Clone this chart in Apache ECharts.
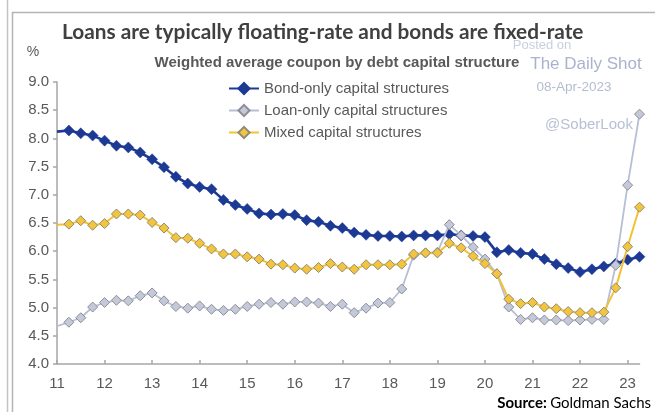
<!DOCTYPE html>
<html>
<head>
<meta charset="utf-8">
<script src="https://cdn.jsdelivr.net/npm/echarts@6/dist/echarts.min.js"></script>
<style>
  html, body { margin: 0; padding: 0; background: #ffffff; }
  #chart { width: 655px; height: 412px; }
</style>
</head>
<body>
<div id="chart"></div>
<script>
// Quarterly observation dates as fractional years (11 = 2011); the first entry only anchors the line at the axis
const quarters = [11.00, 11.25, 11.50, 11.75, 12.00, 12.25, 12.50, 12.75, 13.00, 13.25, 13.50,
  13.75, 14.00, 14.25, 14.50, 14.75, 15.00, 15.25, 15.50, 15.75, 16.00, 16.25, 16.50, 16.75,
  17.00, 17.25, 17.50, 17.75, 18.00, 18.25, 18.50, 18.75, 19.00, 19.25, 19.50, 19.75, 20.00,
  20.25, 20.50, 20.75, 21.00, 21.25, 21.50, 21.75, 22.00, 22.25, 22.50, 22.75, 23.00, 23.25];

// Weighted average coupon, %
const bondOnly = [8.12, 8.14, 8.09, 8.05, 7.96, 7.87, 7.84, 7.75, 7.63, 7.49, 7.32, 7.20, 7.14,
  7.10, 6.91, 6.82, 6.75, 6.67, 6.65, 6.66, 6.64, 6.55, 6.52, 6.45, 6.41, 6.33, 6.29, 6.27,
  6.27, 6.26, 6.28, 6.28, 6.28, 6.30, 6.28, 6.27, 6.25, 5.98, 6.02, 5.97, 5.95, 5.86, 5.77,
  5.70, 5.63, 5.68, 5.73, 5.78, 5.85, 5.90];
const loanOnly = [4.67, 4.74, 4.82, 5.01, 5.09, 5.13, 5.12, 5.21, 5.26, 5.12, 5.02, 4.99, 5.03,
  4.97, 4.95, 4.97, 5.02, 5.06, 5.09, 5.06, 5.10, 5.10, 5.08, 5.02, 5.06, 4.91, 4.99, 5.08,
  5.09, 5.33, 5.93, 5.97, 5.98, 6.47, 6.28, 6.07, 5.86, 5.60, 5.01, 4.79, 4.82, 4.78, 4.78,
  4.77, 4.78, 4.79, 4.79, 5.75, 7.17, 8.43];
const mixed = [6.47, 6.48, 6.54, 6.46, 6.49, 6.66, 6.66, 6.64, 6.51, 6.41, 6.24, 6.23, 6.14,
  6.04, 5.95, 5.95, 5.90, 5.86, 5.77, 5.76, 5.70, 5.68, 5.71, 5.78, 5.72, 5.68, 5.76, 5.76,
  5.76, 5.77, 5.95, 5.97, 5.97, 6.14, 6.06, 5.91, 5.78, 5.60, 5.15, 5.07, 5.09, 5.01, 4.98,
  4.93, 4.91, 4.91, 4.92, 5.35, 6.08, 6.78];

const seriesNames = ['Bond-only capital structures', 'Loan-only capital structures', 'Mixed capital structures'];
const yearTicks = [11, 12, 13, 14, 15, 16, 17, 18, 19, 20, 21, 22, 23];

const AXIS = '#a6a6a6';
const LABEL = '#595959';
const SANS = '"Liberation Sans", Arial, sans-serif';

function points(values) {
  return values.map((v, i) => i === 0
    ? { value: [quarters[i], v], symbol: 'none' }
    : [quarters[i], v]);
}

const chart = echarts.init(document.getElementById('chart'), null, { renderer: 'canvas' });

chart.setOption({
  animation: false,
  backgroundColor: '#ffffff',
  grid: { left: 57, right: 15.5, top: 82, bottom: 48, containLabel: false },
  legend: {
    orient: 'vertical',
    left: 223,
    top: 76,
    itemWidth: 30,
    itemHeight: 14,
    itemGap: 7,
    textStyle: { fontFamily: SANS, fontSize: 15, color: LABEL },
    data: seriesNames
  },
  xAxis: {
    type: 'value',
    min: 11,
    max: 23.25,
    interval: 1,
    axisLine: { show: true, lineStyle: { color: AXIS, width: 1.5 } },
    axisTick: { show: true, inside: true, length: 4, customValues: yearTicks, lineStyle: { color: AXIS, width: 1.5 } },
    axisLabel: { customValues: yearTicks, margin: 12, fontFamily: SANS, fontSize: 15, color: LABEL },
    splitLine: { show: false }
  },
  yAxis: {
    type: 'value',
    min: 4,
    max: 9,
    interval: 0.5,
    axisLine: { show: true, lineStyle: { color: AXIS, width: 1.5 } },
    axisTick: { show: true, length: 4, lineStyle: { color: AXIS, width: 1.5 } },
    axisLabel: { margin: 8, fontFamily: SANS, fontSize: 15, color: LABEL, formatter: v => v.toFixed(1) },
    splitLine: { show: false }
  },
  series: [
    {
      name: seriesNames[0],
      type: 'line',
      data: points(bondOnly),
      symbol: 'diamond',
      symbolSize: 11,
      lineStyle: { color: '#1c3a94', width: 2.6 },
      itemStyle: { color: '#1c3a94', borderColor: '#1c3a94', borderWidth: 0.5 },
      z: 2
    },
    {
      name: seriesNames[1],
      type: 'line',
      data: points(loanOnly),
      symbol: 'diamond',
      symbolSize: 10,
      lineStyle: { color: '#b7bed6', width: 1.8 },
      itemStyle: { color: '#c4c9da', borderColor: '#8e8e96', borderWidth: 1 },
      z: 3
    },
    {
      name: seriesNames[2],
      type: 'line',
      data: points(mixed),
      symbol: 'diamond',
      symbolSize: 10,
      lineStyle: { color: '#f2c233', width: 2 },
      itemStyle: { color: '#f3c53f', borderColor: '#908a78', borderWidth: 1 },
      z: 4
    }
  ],
  graphic: [
    // frame lines
    { type: 'line', shape: { x1: 7.5, y1: 0, x2: 7.5, y2: 412 }, style: { stroke: '#c4c4c4', lineWidth: 1.5 }, silent: true },
    { type: 'rect', shape: { x: 12.5, y: 12.5, width: 700, height: 450 }, style: { fill: 'none', stroke: '#b4b4b4', lineWidth: 1.5 }, silent: true },
    // headings
    { type: 'text', x: 62, y: 32, style: { text: 'Loans are typically floating-rate and bonds are fixed-rate', font: 'bold 20.8px Lato, sans-serif', fill: '#404040', textVerticalAlign: 'middle' } },
    { type: 'text', x: 337, y: 63, style: { text: 'Weighted average coupon by debt capital structure', font: 'bold 15px "Liberation Sans", Arial, sans-serif', fill: '#595959', textAlign: 'center', textVerticalAlign: 'middle' } },
    { type: 'text', x: 33, y: 52, style: { text: '%', font: '14px "Liberation Sans", Arial, sans-serif', fill: LABEL, textAlign: 'center', textVerticalAlign: 'middle' } },
    // publisher marks
    { type: 'text', x: 542, y: 45, style: { text: 'Posted on', font: '13px "Liberation Sans", Arial, sans-serif', fill: '#c9cfdf', textAlign: 'center', textVerticalAlign: 'middle' } },
    { type: 'text', x: 586, y: 64, style: { text: 'The Daily Shot', font: '17px "Liberation Sans", Arial, sans-serif', fill: '#aab3cb', textAlign: 'center', textVerticalAlign: 'middle' } },
    { type: 'text', x: 574, y: 87, style: { text: '08-Apr-2023', font: '13.5px "Liberation Sans", Arial, sans-serif', fill: '#b4bccf', textAlign: 'center', textVerticalAlign: 'middle' } },
    { type: 'text', x: 589, y: 125, style: { text: '@SoberLook', font: '15px "Liberation Sans", Arial, sans-serif', fill: '#b8c0d5', textAlign: 'center', textVerticalAlign: 'middle' } },
    // source line
    {
      type: 'text', x: 651, y: 403,
      style: {
        text: '{b|Source:} {n|Goldman Sachs}',
        textAlign: 'right', textVerticalAlign: 'middle',
        rich: {
          b: { font: 'bold 15px Lato, sans-serif', fill: '#000000' },
          n: { font: '15px Lato, sans-serif', fill: '#000000' }
        }
      }
    }
  ]
});
</script>
</body>
</html>
